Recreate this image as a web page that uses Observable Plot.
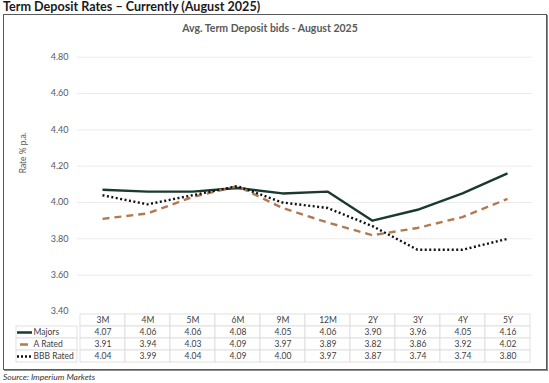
<!DOCTYPE html>
<html>
<head>
<meta charset="utf-8">
<script src="https://cdn.jsdelivr.net/npm/d3@7"></script>
<script src="https://cdn.jsdelivr.net/npm/@observablehq/plot@0.6"></script>
<style>
  body { margin:0; width:549px; height:383px; position:relative; background:#fff; font-family: Lato, "Open Sans", sans-serif; overflow:hidden; }
  #title { position:absolute; left:3px; top:0px; font-weight:700; font-size:12.6px; line-height:14px; color:#1a1a1a; white-space:nowrap; }
  #box { position:absolute; left:3px; top:14px; width:542px; height:354px; border:1px solid #595959; box-shadow:1px 1px 0 #8c8c8c; box-sizing:content-box; }
  #ctitle { position:absolute; left:0; top:22px; width:540px; text-align:center; font-size:10.5px; font-weight:700; color:#595959; white-space:nowrap; }
  #chart { position:absolute; left:0; top:40px; }
  #table { position:absolute; left:0; top:311px; }
  #source { position:absolute; left:3px; top:372px; font-style:italic; font-size:8.5px; color:#333; white-space:nowrap; }
</style>
</head>
<body>
<div id="title">Term Deposit Rates – Currently (August 2025)</div>
<div id="box"></div>
<div id="ctitle">Avg. Term Deposit bids - August 2025</div>
<div id="chart"></div>
<div id="table"></div>
<div id="source">Source: Imperium Markets</div>
<script>
const terms = ["3M","4M","5M","6M","9M","12M","2Y","3Y","4Y","5Y"];
const majors = [4.07,4.06,4.06,4.08,4.05,4.06,3.90,3.96,4.05,4.16];
const aRated = [3.91,3.94,4.03,4.09,3.97,3.89,3.82,3.86,3.92,4.02];
const bbbRated = [4.04,3.99,4.04,4.09,4.00,3.97,3.87,3.74,3.74,3.80];
const seriesNames = ["Majors","A Rated","BBB Rated"];
const yTicks = [3.4,3.6,3.8,4.0,4.2,4.4,4.6,4.8];

const seriesStyle = {
  "Majors":    {stroke:"#1b3a2f", dash:null,  width:2.4},
  "A Rated":   {stroke:"#b27a52", dash:"7,5", width:2.4},
  "BBB Rated": {stroke:"#111111", dash:"2,2.5", width:2.4}
};
const seriesValues = {"Majors":majors, "A Rated":aRated, "BBB Rated":bbbRated};

const rows = seriesNames.flatMap(s => terms.map((t,i) => ({series:s, term:t, v:seriesValues[s][i]})));

const lineMarks = seriesNames.map(s => Plot.line(rows.filter(d => d.series === s), {
  x:"term", y:"v", stroke: seriesStyle[s].stroke, strokeWidth: seriesStyle[s].width,
  strokeDasharray: seriesStyle[s].dash, strokeLinecap:"butt", strokeLinejoin:"round"
}));

const chart = Plot.plot({
  width:549, height:276,
  marginTop:16.7, marginBottom:5, marginLeft:77, marginRight:17,
  style:{overflow:"visible", fontFamily:"Lato, 'Open Sans', sans-serif", fontSize:"9px", color:"#595959", background:"transparent"},
  x:{type:"point", domain:terms, padding:0.5, axis:null},
  y:{domain:[3.4,4.8], axis:null},
  marks:[
    Plot.gridY(yTicks.filter(t => t > 3.4), {stroke:"#ebebeb", strokeOpacity:1, strokeWidth:1}),
    Plot.axisY(yTicks, {tickSize:0, tickPadding:9, tickFormat:d3.format(".2f"), label:null, fill:"#595959"}),
    Plot.text(["Rate % p.a."], {frameAnchor:"left", rotate:-90, dx:-54, dy:-11, fill:"#595959", fontSize:8.5}),
    ...lineMarks
  ]
});
document.getElementById("chart").append(chart);

const rowKeys = ["hdr", ...seriesNames];
const table = Plot.plot({
  width:549, height:53,
  marginTop:2, marginBottom:2, marginLeft:77, marginRight:17,
  style:{overflow:"visible", fontFamily:"Lato, 'Open Sans', sans-serif", fontSize:"8.5px", color:"#404040", background:"transparent"},
  x:{type:"band", domain:terms, padding:0, axis:null},
  y:{type:"band", domain:rowKeys, padding:0, axis:null},
  marks:[
    Plot.cell(terms, {x:d => d, y:() => "hdr", fill:"white", stroke:"#d9d9d9", strokeWidth:0.8}),
    Plot.cell(rows, {x:"term", y:"series", fill:"white", stroke:"#d9d9d9", strokeWidth:0.8}),
    Plot.cell(seriesNames, {y:d => d, insetLeft:-61, insetRight:455, fill:"white", stroke:"#d9d9d9", strokeWidth:0.8}),
    Plot.tickY(["Majors"], {y:d => d, insetLeft:-60, insetRight:500, stroke:seriesStyle["Majors"].stroke, strokeWidth:2.5}),
    Plot.tickY(["A Rated"], {y:d => d, insetLeft:-57, insetRight:504, stroke:seriesStyle["A Rated"].stroke, strokeWidth:2.5}),
    Plot.tickY(["BBB Rated"], {y:d => d, insetLeft:-60, insetRight:500, stroke:seriesStyle["BBB Rated"].stroke, strokeWidth:2.5, strokeDasharray:"2,2"}),
    Plot.text(seriesNames, {y:d => d, frameAnchor:"left", dx:-44, textAnchor:"start", fill:"#404040"}),
    Plot.text(terms, {x:d => d, y:() => "hdr", fill:"#404040"}),
    Plot.text(rows, {x:"term", y:"series", text:d => d3.format(".2f")(d.v), fill:"#404040"})
  ]
});
document.getElementById("table").append(table);
</script>
</body>
</html>
